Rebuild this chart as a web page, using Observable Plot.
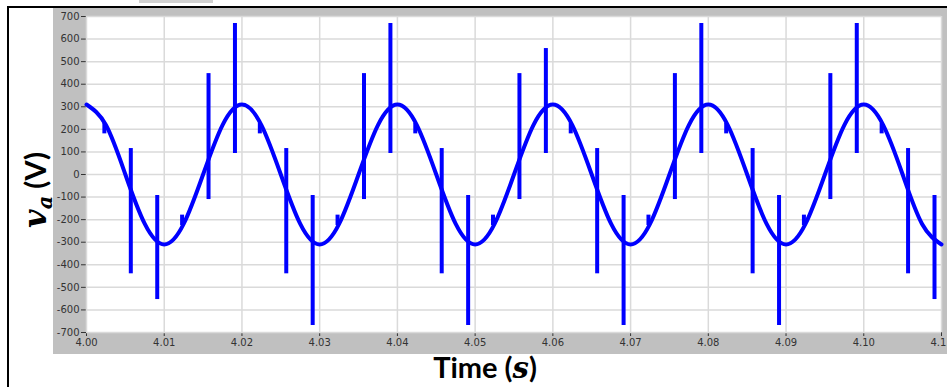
<!DOCTYPE html>
<html>
<head>
<meta charset="utf-8">
<script src="https://cdn.jsdelivr.net/npm/d3@7"></script>
<script src="https://cdn.jsdelivr.net/npm/@observablehq/plot@0.6"></script>
<style>
  html, body { margin: 0; padding: 0; background: #fff; }
  #page { position: relative; width: 947px; height: 387px; overflow: hidden; background: #fff; }
  #frame { position: absolute; left: 7px; top: 6px; width: 960px; height: 400px; border-left: 2px solid #000; border-top: 2px solid #000; box-sizing: border-box; }
  #panel { position: absolute; left: 53px; top: 8px; width: 894px; height: 346px; background: #c0c0c0; }
  #ylab { position: absolute; left: 35px; top: 190px; transform: translate(-50%, -50%) rotate(-90deg); white-space: nowrap; font-family: Lato, sans-serif; font-weight: bold; font-size: 29px; color: #000; }
  #xlab { position: absolute; left: 485px; top: 367px; transform: translate(-50%, -50%); white-space: nowrap; font-family: Lato, sans-serif; font-weight: bold; font-size: 29px; color: #000; }
  .m { font-family: "DejaVu Serif", serif; font-style: italic; font-weight: bold; }
  #titlefrag { position: absolute; left: 139px; top: 0; width: 74px; height: 3px; background: #d0d0d0; overflow: hidden; }
</style>
</head>
<body>
<div id="page">
  <div id="titlefrag"></div>
  <div id="frame"></div>
  <div id="panel"></div>
  <div id="ylab"><span class="m" style="font-size:32px">v</span><span class="m" style="font-size:21px;position:relative;top:6px">a</span> (V)</div>
  <div id="xlab">Time (<span class="m">s</span>)</div>
</div>
<script>
const times = [
  4.0000, 4.0025, 4.0050, 4.0075, 4.0100, 4.0125, 4.0150, 4.0175,
  4.0200, 4.0225, 4.0250, 4.0275, 4.0300, 4.0325, 4.0350, 4.0375,
  4.0400, 4.0425, 4.0450, 4.0475, 4.0500, 4.0525, 4.0550, 4.0575,
  4.0600, 4.0625, 4.0650, 4.0675, 4.0700, 4.0725, 4.0750, 4.0775,
  4.0800, 4.0825, 4.0850, 4.0875, 4.0900, 4.0925, 4.0950, 4.0975,
  4.1000, 4.1025, 4.1050, 4.1075, 4.1100
];
const volts = [
  310, 219, 0, -219, -310, -219, 0, 219,
  310, 219, 0, -219, -310, -219, 0, 219,
  310, 219, 0, -219, -310, -219, 0, 219,
  310, 219, 0, -219, -310, -219, 0, 219,
  310, 219, 0, -219, -310, -219, 0, 219,
  310, 219, 0, -219, -310
];

// Switching spikes: time, lower end, upper end
const spikeT = [
  4.0057, 4.0091, 4.0157, 4.0191,
  4.0257, 4.0291, 4.0357, 4.0391,
  4.0457, 4.0491, 4.0557, 4.0591,
  4.0657, 4.0691, 4.0757, 4.0791,
  4.0857, 4.0891, 4.0957, 4.0991,
  4.1057, 4.1091
];
const spikeLo = [
  -440, -554, -111, 93,
  -440, -669, -111, 93,
  -440, -669, -111, 93,
  -440, -669, -111, 93,
  -440, -669, -111, 93,
  -440, -554
];
const spikeHi = [
  115, -93, 447, 669,
  115, -93, 447, 669,
  115, -93, 447, 558,
  115, -93, 447, 669,
  115, -93, 447, 669,
  115, -93
];

// Small notches on the waveform
const notchT = [4.0023, 4.0123, 4.0223, 4.0323, 4.0423, 4.0523, 4.0623, 4.0723, 4.0823, 4.0923, 4.1023];
const notchLo = [180, -226, 180, -226, 180, -226, 180, -226, 180, -226, 180];
const notchHi = [226, -180, 226, -180, 226, -180, 226, -180, 226, -180, 226];

// Axis ticks
const xTicks = [4.00, 4.01, 4.02, 4.03, 4.04, 4.05, 4.06, 4.07, 4.08, 4.09, 4.10, 4.11];
const yTicks = [-700, -600, -500, -400, -300, -200, -100, 0, 100, 200, 300, 400, 500, 600, 700];

const wave = times.map((t, i) => ({t, v: volts[i]}));
const spikes = spikeT.map((t, i) => ({t, lo: spikeLo[i], hi: spikeHi[i]}));
const notches = notchT.map((t, i) => ({t, lo: notchLo[i], hi: notchHi[i]}));

const blue = "#0000ff";
const chart = Plot.plot({
  width: 894,
  height: 346,
  marginLeft: 33,
  marginTop: 8,
  marginRight: 6,
  marginBottom: 22,
  style: { background: "transparent", fontFamily: "'DejaVu Sans', sans-serif", fontSize: "10px", color: "#333", overflow: "visible" },
  x: { domain: [4.00, 4.11], ticks: xTicks, tickFormat: d3.format(".2f"), tickSize: 4, tickPadding: 2, label: null },
  y: { domain: [-700, 700], ticks: yTicks, tickFormat: d => String(d), tickSize: 5, tickPadding: 2, label: null },
  marks: [
    Plot.frame({ fill: "white", stroke: "none" }),
    Plot.ruleX(xTicks, { stroke: "#dadada", strokeWidth: 1.5, strokeOpacity: 1 }),
    Plot.ruleY(yTicks, { stroke: "#dadada", strokeWidth: 1.5, strokeOpacity: 1 }),
    Plot.line(wave, { x: "t", y: "v", stroke: blue, strokeWidth: 4, curve: "natural" }),
    Plot.ruleX(notches, { x: "t", y1: "lo", y2: "hi", stroke: blue, strokeWidth: 4, strokeLinecap: "butt" }),
    Plot.ruleX(spikes, { x: "t", y1: "lo", y2: "hi", stroke: blue, strokeWidth: 4, strokeLinecap: "butt" })
  ]
});
chart.style.position = "absolute";
chart.style.left = "0px";
chart.style.top = "0px";
document.getElementById("panel").appendChild(chart);
</script>
</body>
</html>
